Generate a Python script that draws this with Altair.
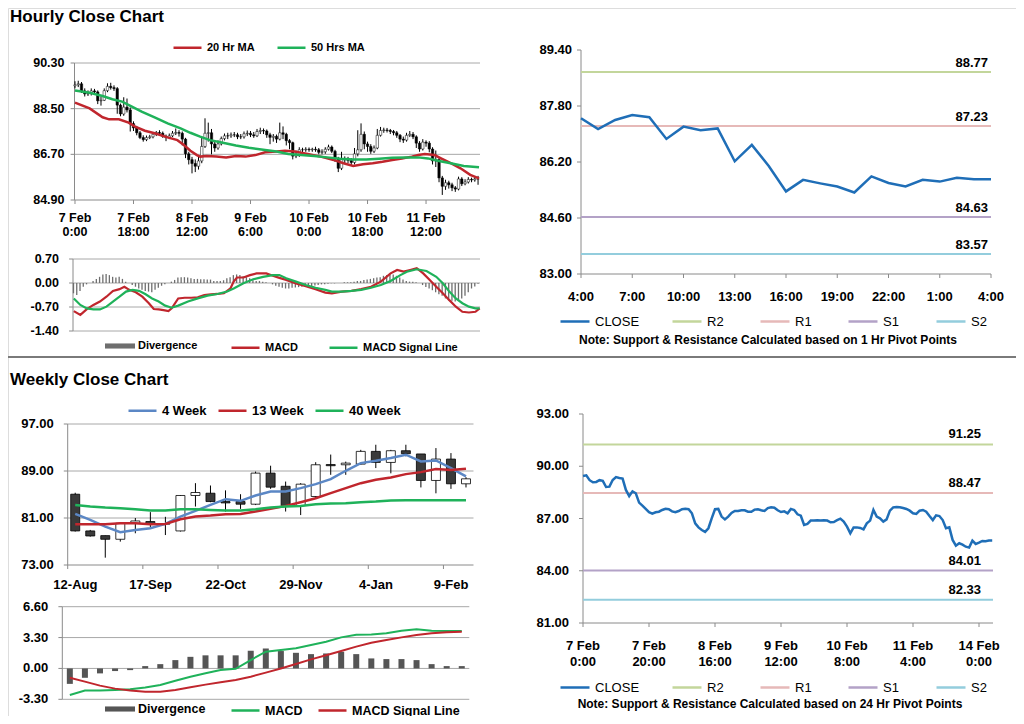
import altair as alt
import pandas as pd

FONT = "Liberation Sans"
W, H = 1008, 708
PAGE = 8


def px(v):
    return v - PAGE

# ---------------- hourly candles: 7 Feb 0:00 onward, one per hour ----------------
h_close = [89.44, 89.48, 89.20, 89.08, 89.10, 89.20, 89.16, 88.81, 88.83, 89.21,
           89.38, 89.33, 89.29, 88.64, 88.29, 88.56, 88.45, 87.91, 87.74, 87.55,
           87.36, 87.28, 87.36, 87.39, 87.49, 87.56, 87.53, 87.41, 87.36, 87.43,
           87.53, 87.56, 87.53, 87.30, 86.72, 86.49, 86.34, 86.23, 86.44, 87.01,
           87.53, 87.55, 87.11, 86.95, 87.11, 87.32, 87.43, 87.43, 87.47, 87.47,
           87.39, 87.39, 87.51, 87.53, 87.47, 87.43, 87.60, 87.64, 87.62, 87.47,
           87.37, 87.41, 87.30, 87.55, 87.49, 87.24, 87.16, 86.63, 86.69, 86.88,
           86.88, 86.90, 86.88, 86.90, 86.88, 86.78, 86.80, 86.90, 86.99, 86.82,
           86.53, 86.15, 86.49, 86.49, 86.46, 86.38, 86.72, 86.88, 87.49, 87.11,
           87.01, 86.82, 86.95, 87.45, 87.64, 87.66, 87.64, 87.60, 87.55, 87.45,
           87.30, 87.26, 87.45, 87.49, 87.39, 87.14, 86.91, 87.18, 87.14, 86.91,
           86.44, 86.49, 85.77, 85.44, 85.58, 85.50, 85.38, 85.33, 85.73, 85.54,
           85.61, 85.71, 85.69, 85.73, 85.73]
h_open = [89.40, 89.44, 89.48, 89.20, 89.08, 89.10, 89.20, 89.16, 88.81, 88.83,
          89.21, 89.38, 89.33, 89.29, 88.64, 88.29, 88.56, 88.45, 87.91, 87.74,
          87.55, 87.36, 87.28, 87.36, 87.39, 87.49, 87.56, 87.53, 87.41, 87.36,
          87.43, 87.53, 87.56, 87.53, 87.30, 86.72, 86.49, 86.34, 86.23, 86.44,
          87.01, 87.53, 87.55, 87.11, 86.95, 87.11, 87.32, 87.43, 87.43, 87.47,
          87.47, 87.39, 87.39, 87.51, 87.53, 87.47, 87.43, 87.60, 87.64, 87.62,
          87.47, 87.37, 87.41, 87.30, 87.55, 87.49, 87.24, 87.16, 86.63, 86.69,
          86.88, 86.88, 86.90, 86.88, 86.90, 86.88, 86.78, 86.80, 86.90, 86.99,
          86.82, 86.53, 86.15, 86.49, 86.49, 86.46, 86.38, 86.72, 86.88, 87.49,
          87.11, 87.01, 86.82, 86.95, 87.45, 87.64, 87.66, 87.64, 87.60, 87.55,
          87.45, 87.30, 87.26, 87.45, 87.49, 87.39, 87.14, 86.91, 87.18, 87.14,
          86.91, 86.44, 86.49, 85.77, 85.44, 85.58, 85.50, 85.38, 85.33, 85.73,
          85.54, 85.61, 85.71, 85.69, 85.73]
h_high = [89.58, 89.60, 89.55, 89.30, 89.22, 89.30, 89.28, 89.22, 88.98, 89.30,
          89.50, 89.52, 89.42, 89.35, 88.70, 88.95, 88.90, 88.55, 88.00, 87.82,
          87.62, 87.45, 87.44, 87.47, 87.58, 87.62, 87.65, 87.60, 87.48, 87.52,
          87.62, 87.72, 87.65, 87.60, 87.35, 86.80, 86.60, 86.50, 86.60, 87.40,
          88.12, 87.95, 87.70, 87.20, 87.25, 87.40, 87.52, 87.55, 87.56, 87.58,
          87.55, 87.50, 87.60, 87.64, 87.62, 87.58, 87.70, 87.75, 87.72, 87.68,
          87.55, 87.50, 87.48, 87.95, 87.80, 87.55, 87.30, 87.20, 86.85, 86.98,
          86.96, 86.98, 86.97, 86.96, 87.00, 86.95, 86.90, 86.98, 87.08, 87.05,
          86.88, 86.60, 86.80, 86.62, 86.60, 86.55, 86.95, 87.65, 87.92, 87.60,
          87.20, 87.10, 87.05, 87.70, 87.78, 87.75, 87.74, 87.70, 87.66, 87.62,
          87.50, 87.40, 87.55, 87.62, 87.58, 87.45, 87.22, 87.30, 87.25, 87.22,
          86.98, 86.85, 86.55, 85.85, 85.70, 85.66, 85.58, 85.45, 85.82, 85.80,
          85.72, 85.80, 85.78, 85.82, 85.85]
h_low = [89.30, 89.35, 89.12, 88.98, 89.00, 89.02, 89.05, 88.68, 88.62, 88.80,
         89.15, 89.25, 89.20, 88.30, 88.20, 88.22, 88.35, 87.60, 87.62, 87.45,
         87.30, 87.20, 87.22, 87.30, 87.33, 87.42, 87.45, 87.35, 87.22, 87.30,
         87.38, 87.46, 87.40, 87.05, 86.55, 86.30, 85.95, 86.00, 86.10, 86.35,
         86.95, 87.20, 86.70, 86.80, 86.88, 87.05, 87.25, 87.30, 87.35, 87.38,
         87.30, 87.30, 87.32, 87.42, 87.38, 87.35, 87.38, 87.50, 87.50, 87.35,
         87.10, 87.20, 87.15, 87.25, 87.30, 87.05, 86.90, 86.50, 86.55, 86.60,
         86.78, 86.80, 86.80, 86.80, 86.80, 86.70, 86.70, 86.72, 86.85, 86.75,
         86.40, 86.00, 86.08, 86.35, 86.35, 86.25, 86.30, 86.62, 86.80, 86.90,
         86.80, 86.72, 86.75, 86.90, 87.40, 87.55, 87.56, 87.50, 87.45, 87.35,
         87.18, 87.15, 87.20, 87.38, 87.30, 86.95, 86.80, 86.85, 87.00, 86.78,
         86.30, 86.20, 85.60, 85.10, 85.30, 85.35, 85.25, 85.22, 85.28, 85.45,
         85.48, 85.55, 85.60, 85.62, 85.50]

# moving averages (hour position, value)
ma20_h = [0, 4.5, 8.5, 10.5, 13.5, 16.5, 18.5, 21.5, 24.5, 28.5, 31.5, 33.5, 35.5, 37.5,
          38.5, 40.5, 43.5, 46.5, 49.5, 52.5, 55.5, 58.5, 62, 64.6, 67.6, 71.6, 75.6,
          79.6, 82.6, 85.6, 88.6, 91.6, 94.6, 97.6, 100.6, 103.6, 105.6, 107.6, 110.6,
          112.6, 115.6, 118.6, 121.6, 124.3]
ma20_v = [88.74, 88.51, 88.16, 88.08, 88.08, 87.95, 87.79, 87.63, 87.53, 87.37, 87.26,
          87.07, 86.84, 86.67, 86.61, 86.63, 86.61, 86.58, 86.63, 86.61, 86.67, 86.78,
          86.81, 86.84, 86.81, 86.71, 86.61, 86.48, 86.35, 86.24, 86.31, 86.35, 86.41,
          86.48, 86.54, 86.61, 86.67, 86.71, 86.67, 86.54, 86.35, 86.15, 85.89, 85.75]
ma50_h = [0, 4.5, 8.5, 11.5, 14.5, 17.5, 20.5, 24.5, 28.5, 32.5, 35.5, 38.5, 41.5, 45.5,
          49.5, 53.5, 58.5, 62, 65.6, 69.6, 73.6, 77.6, 81.6, 85.6, 89.6, 93.6, 97.6,
          101.6, 105.6, 108.6, 111.6, 115.6, 119.6, 124.3]
ma50_v = [89.22, 89.13, 89.00, 88.87, 88.78, 88.58, 88.38, 88.16, 87.92, 87.72, 87.55,
          87.40, 87.26, 87.16, 87.05, 86.96, 86.87, 86.81, 86.71, 86.67, 86.63, 86.58,
          86.53, 86.50, 86.50, 86.53, 86.57, 86.58, 86.58, 86.54, 86.45, 86.35, 86.24,
          86.19]

# hourly MACD
h_div = [-0.30, -0.35, -0.23, -0.11, -0.04, 0.00, 0.06, 0.12, 0.18, 0.25,
         0.26, 0.23, 0.18, 0.16, 0.18, 0.12, 0.04, 0.00, -0.06, -0.11,
         -0.16, -0.20, -0.23, -0.25, -0.27, -0.20, -0.14, -0.08, -0.04, 0.00,
         0.04, 0.09, 0.16, 0.17, 0.17, 0.16, 0.14, 0.12, 0.12, 0.11,
         0.11, 0.10, 0.10, 0.06, 0.06, 0.06, 0.08, 0.14, 0.17, 0.23,
         0.25, 0.23, 0.20, 0.17, 0.14, 0.08, 0.06, 0.06, 0.04, 0.02,
         0.00, -0.04, -0.08, -0.11, -0.14, -0.16, -0.16, -0.14, -0.13, -0.12,
         -0.11, -0.10, -0.10, -0.09, -0.07, -0.06, -0.04, -0.04, -0.02, -0.01,
         -0.01, 0.00, 0.00, 0.02, 0.02, 0.02, 0.04, 0.06, 0.06, 0.09,
         0.10, 0.12, 0.14, 0.16, 0.17, 0.21, 0.23, 0.23, 0.25, 0.21,
         0.16, 0.10, 0.06, 0.04, 0.04, 0.02, 0.00, -0.06, -0.12, -0.16,
         -0.21, -0.27, -0.33, -0.37, -0.45, -0.51, -0.52, -0.54, -0.52, -0.45,
         -0.37, -0.27, -0.16, -0.10, -0.02]
macd_h = [0.1, 2.1, 4.1, 6.1, 8.1, 10.1, 12.1, 14.1, 15.6, 17.1, 19.1, 21.1, 23.1, 24.6,
          26.1, 27.6, 29.1, 30.1, 32.1, 34.1, 36.1, 38.1, 40.1, 42.1, 44.1, 46.1, 48.1,
          49.1, 50.1, 52.1, 54.1, 56.1, 59.1, 61.1, 63.1, 65.2, 68.2, 71.2, 74.2, 77.2,
          79.2, 82.2, 85.2, 88.2, 91.2, 94.2, 97.2, 99.2, 101.2, 103.2, 105.2, 107.2,
          109.2, 111.2, 113.2, 115.2, 117.2, 119.2, 121.2, 123.2, 124.5]
macd_v = [-0.82, -0.93, -0.76, -0.64, -0.54, -0.40, -0.23, -0.18, -0.11, -0.20, -0.27,
          -0.40, -0.59, -0.76, -0.77, -0.79, -0.82, -0.74, -0.45, -0.43, -0.43, -0.42,
          -0.35, -0.33, -0.32, -0.30, -0.16, 0.04, 0.16, 0.16, 0.23, 0.28, 0.28, 0.21,
          0.15, 0.09, -0.01, -0.09, -0.18, -0.28, -0.30, -0.25, -0.23, -0.18, -0.11,
          0.04, 0.28, 0.38, 0.33, 0.38, 0.43, 0.28, 0.09, -0.11, -0.30, -0.50, -0.69,
          -0.84, -0.86, -0.84, -0.74]
sig_h = [0.1, 2.1, 4.1, 6.1, 8.1, 10.1, 12.1, 14.1, 16.1, 18.1, 20.1, 22.1, 24.1, 26.1,
         28.1, 30.1, 32.1, 35.1, 38.1, 41.1, 44.1, 47.1, 49.1, 52.1, 55.1, 58.1, 61.1,
         63.1, 65.2, 68.2, 71.2, 74.2, 77.2, 79.2, 82.2, 85.2, 88.2, 91.2, 94.2, 97.2,
         100.2, 102.2, 105.2, 108.2, 111.2, 113.2, 115.2, 117.2, 119.2, 121.2, 123.2,
         124.5]
sig_v = [-0.45, -0.64, -0.74, -0.77, -0.77, -0.69, -0.54, -0.40, -0.25, -0.20, -0.23,
         -0.33, -0.45, -0.54, -0.66, -0.72, -0.66, -0.54, -0.45, -0.37, -0.32, -0.25,
         -0.16, -0.01, 0.11, 0.18, 0.23, 0.23, 0.14, 0.04, -0.06, -0.14, -0.20, -0.25,
         -0.25, -0.23, -0.20, -0.14, -0.06, 0.06, 0.23, 0.33, 0.40, 0.35, 0.18, -0.01,
         -0.25, -0.45, -0.59, -0.69, -0.74, -0.74]

# 1 hour pivot chart (4:00 to 4:00)
p1_close = [87.45, 87.14, 87.40, 87.54, 87.48, 86.86, 87.21, 87.11, 87.16, 86.22, 86.69,
            86.08, 85.36, 85.69, 85.59, 85.50, 85.33, 85.79, 85.60, 85.50, 85.69, 85.64,
            85.75, 85.71, 85.71]
p1_levels = [88.77, 87.23, 84.63, 83.57]
p24_levels = [91.25, 88.47, 84.01, 82.33]
level_names = ["R2", "R1", "S1", "S2"]

# weekly candles
w_open = [85.05, 78.80, 78.00, 77.38, 80.10, 80.40, 79.95, 78.80, 84.83, 85.22, 83.80,
          83.80, 83.35, 88.64, 86.40, 83.12, 84.66, 90.10, 90.06, 90.17, 92.34, 90.46,
          92.45, 91.90, 87.39, 91.03, 86.82]
w_close = [78.80, 77.94, 77.38, 80.11, 80.50, 79.95, 80.05, 84.83, 85.34, 83.80, 83.57,
           83.35, 88.64, 86.25, 83.12, 86.76, 90.06, 89.90, 90.34, 92.34, 90.46, 92.45,
           91.94, 87.39, 91.03, 86.82, 87.67]
w_high = [85.30, 78.97, 78.00, 80.11, 81.00, 82.00, 81.20, 84.90, 86.93, 86.53, 85.70,
          85.05, 88.90, 89.90, 87.20, 86.93, 90.50, 91.80, 90.60, 92.60, 93.47, 92.60,
          93.47, 91.90, 92.90, 92.05, 87.95]
w_low = [78.70, 77.83, 74.25, 76.98, 78.40, 79.20, 78.10, 78.70, 82.95, 83.69, 82.10,
         82.55, 83.20, 85.97, 82.10, 81.50, 84.40, 88.35, 88.35, 90.06, 89.50, 88.60,
         91.50, 86.20, 85.20, 85.96, 86.20]
w_ma4 = [81.70, 80.67, 79.54, 78.57, 78.97, 79.25, 79.99, 81.24, 82.21, 83.23, 84.20,
         83.92, 84.83, 85.51, 85.51, 86.08, 86.76, 87.61, 89.04, 90.34, 90.74, 91.20,
         91.77, 90.63, 90.80, 89.49, 88.07]
w_ma13 = [79.94, 79.94, 79.94, 80.11, 80.11, 79.94, 79.99, 80.79, 81.24, 81.41, 81.64,
          81.70, 82.10, 82.55, 83.06, 83.69, 84.37, 85.23, 86.08, 86.93, 87.50, 87.90,
          88.47, 88.81, 89.32, 89.15, 89.38]
w_ma40 = [83.23, 82.95, 82.78, 82.67, 82.49, 82.27, 82.27, 82.49, 82.49, 82.38, 82.27,
          82.27, 82.49, 82.78, 82.95, 83.06, 83.35, 83.46, 83.52, 83.69, 83.80, 83.97,
          84.03, 84.03, 84.03, 84.03, 84.03]
w_div = [-1.65, -1.00, -0.53, -0.28, -0.18, 0.25, 0.46, 0.89, 1.24, 1.40, 1.40, 1.40,
         1.89, 2.14, 1.86, 1.67, 1.53, 1.60, 1.78, 1.53, 1.07, 1.00, 1.00, 0.89, 0.46,
         0.25, 0.25]
w_macd = [-2.84, -2.37, -2.37, -2.30, -2.23, -2.05, -1.77, -1.31, -0.88, -0.52, -0.17,
          -0.04, 0.90, 1.79, 1.97, 2.15, 2.50, 2.86, 3.32, 3.61, 3.64, 3.75, 4.04, 4.18,
          4.04, 4.00, 4.00]
w_signal = [-0.99, -1.41, -1.84, -2.16, -2.37, -2.48, -2.48, -2.30, -2.02, -1.73, -1.48,
            -1.23, -0.88, -0.45, 0.00, 0.47, 0.97, 1.40, 1.86, 2.33, 2.75, 3.04, 3.32,
            3.57, 3.75, 3.86, 3.93]

# tick values and labels
hc_yticks = [84.9, 86.7, 88.5, 90.3]
hm_yticks = [-1.4, -0.7, 0.0, 0.7]
p1_yticks = [83.0, 84.6, 86.2, 87.8, 89.4]
wk_yticks = [73, 81, 89, 97]
wm_yticks = [-3.3, 0.0, 3.3, 6.6]
p24_yticks = [81, 84, 87, 90, 93]
hc_ticks = [0, 18, 36, 54, 72, 90, 108]
hc_labels = ["7 Feb\n0:00", "7 Feb\n18:00", "8 Feb\n12:00", "9 Feb\n6:00",
             "10 Feb\n0:00", "10 Feb\n18:00", "11 Feb\n12:00"]
p1_ticks = [0, 3, 6, 9, 12, 15, 18, 21, 24]
p1_labels = ["4:00", "7:00", "10:00", "13:00", "16:00", "19:00", "22:00", "1:00", "4:00"]
wk_ticks = [0, 5, 10, 15, 20, 25]
wk_labels = ["12-Aug", "17-Sep", "22-Oct", "29-Nov", "4-Jan", "9-Feb"]
p24_ticks = [0, 20, 40, 60, 80, 100, 120]
p24_labels = ["7 Feb\n0:00", "7 Feb\n20:00", "8 Feb\n16:00", "9 Feb\n12:00",
              "10 Feb\n8:00", "11 Feb\n4:00", "14 Feb\n0:00"]

RED = "#c0262d"
GREEN = "#1fb25a"
BLUE4 = "#5b87c5"
CLOSE_C = "#1f6eb7"
LEVEL_C = ["#c3d69b", "#e6b9b8", "#b3a2c7", "#93cddd"]
GRID = "#a8a8a8"
AXC = "#8a8a8a"


def sc(domain, r0, r1):
    return alt.Scale(domain=domain, range=[px(r0), px(r1)], zero=False, nice=False)


def axis_layers(xdom, xr, ydom, yr, yticks, grid_vals, ygap, ysize,
                xticks=None, xlabels=None, xgap=0, xsize=13, xdx=0, lh=15):
    xs, ys = sc(xdom, *xr), sc(ydom, *yr)
    xmin, xmax = xdom
    ymin, ymax = ydom
    tkx = 4.0 * (xmax - xmin) / (xr[1] - xr[0])
    tky = 4.0 * (ymax - ymin) / (yr[0] - yr[1])
    X = lambda f: alt.X(f, scale=xs, axis=None)
    Y = lambda f: alt.Y(f, scale=ys, axis=None)
    out = []
    if grid_vals:
        g = pd.DataFrame({"v": grid_vals, "x0": xmin, "x1": xmax})
        out.append(alt.Chart(g).mark_rule(color=GRID, strokeWidth=1).encode(
            x=X("x0:Q"), x2="x1:Q", y=Y("v:Q")))
    yt = pd.DataFrame({"v": yticks, "x0": xmin - tkx, "x1": xmin,
                       "lab": ["%.2f" % v for v in yticks]})
    out.append(alt.Chart(yt).mark_rule(color=AXC, strokeWidth=1).encode(
        x=X("x0:Q"), x2="x1:Q", y=Y("v:Q")))
    out.append(alt.Chart(yt).mark_text(align="right", baseline="middle", dx=-ygap, font=FONT,
                                       fontSize=ysize, fontWeight="bold", color="black").encode(
        x=X("x1:Q"), y=Y("v:Q"), text="lab:N"))
    yl = pd.DataFrame({"x0": [xmin], "y0": [ymin], "y1": [ymax]})
    out.append(alt.Chart(yl).mark_rule(color=AXC, strokeWidth=1).encode(
        x=X("x0:Q"), y=Y("y0:Q"), y2="y1:Q"))
    if xticks is not None:
        xl = pd.DataFrame({"x0": [xmin], "x1": [xmax], "y0": [ymin]})
        out.append(alt.Chart(xl).mark_rule(color=AXC, strokeWidth=1).encode(
            x=X("x0:Q"), x2="x1:Q", y=Y("y0:Q")))
        xt = pd.DataFrame({"t": xticks, "y0": ymin, "y1": ymin - tky, "lab": xlabels})
        out.append(alt.Chart(xt).mark_rule(color=AXC, strokeWidth=1).encode(
            x=X("t:Q"), y=Y("y0:Q"), y2="y1:Q"))
        out.append(alt.Chart(xt).mark_text(align="center", baseline="top", dy=xgap, dx=xdx,
                                           lineBreak="\n", lineHeight=lh, font=FONT,
                                           fontSize=xsize, fontWeight="bold",
                                           color="black").encode(
            x=X("t:Q"), y=Y("y0:Q"), text="lab:N"))
    return out


def line_legend(xpage, ycenter, size, bold, pad, symlen=28, align="each", columns=None):
    kw = {}
    if columns:
        kw["columns"] = columns
    return alt.Legend(orient="none", legendX=px(xpage), legendY=px(ycenter) - symlen / 2,
                      direction="horizontal", title=None, symbolType="stroke",
                      symbolSize=symlen * symlen, symbolStrokeWidth=2.5, labelFont=FONT,
                      labelFontSize=size, labelFontWeight="bold" if bold else "normal",
                      labelColor="black", columnPadding=pad, labelOffset=4, padding=0,
                      labelLimit=400, gridAlign=align, **kw)


def box_legend(xpage, ycenter, size):
    return alt.Legend(orient="none", legendX=px(xpage), legendY=px(ycenter) - 15,
                      direction="horizontal", title=None,
                      symbolType="M-1,-0.17H1V0.17H-1Z", symbolSize=900,
                      symbolStrokeWidth=0, labelFont=FONT, labelFontSize=size,
                      labelFontWeight="bold", labelColor="black", labelOffset=3,
                      padding=0, labelLimit=400)


# ---------------- panel A: hourly candles ----------------
domA, rxA, ydomA, ryA = [-0.15, 124.6], (69.5, 485), [84.9, 90.3], (200, 63)
xA, yA = sc(domA, *rxA), sc(ydomA, *ryA)
dfA = pd.DataFrame({"h": list(range(len(h_close))), "open": h_open, "close": h_close,
                    "high": h_high, "low": h_low})
dfMA = pd.concat([
    pd.DataFrame({"h": ma20_h, "v": ma20_v, "s": "20 Hr MA"}),
    pd.DataFrame({"h": ma50_h, "v": ma50_v, "s": "50 Hrs MA"}),
])
wickA = alt.Chart(dfA).mark_rule(color="black", strokeWidth=1).encode(
    x=alt.X("h:Q", scale=xA, axis=None), y=alt.Y("low:Q", scale=yA, axis=None), y2="high:Q")
bodyA = alt.Chart(dfA).mark_bar(size=2.4, stroke="black", strokeWidth=0.5).encode(
    x=alt.X("h:Q", scale=xA, axis=None),
    y=alt.Y("open:Q", scale=yA, axis=None), y2="close:Q",
    fill=alt.condition("datum.close >= datum.open", alt.value("white"), alt.value("black")))
maA = alt.Chart(dfMA).mark_line(strokeWidth=2.5).encode(
    x=alt.X("h:Q", scale=xA, axis=None),
    y=alt.Y("v:Q", scale=yA, axis=None),
    color=alt.Color("s:N", scale=alt.Scale(domain=["20 Hr MA", "50 Hrs MA"], range=[RED, GREEN]),
                    legend=line_legend(172, 46, 11, True, 17)))
axA = axis_layers(domA, rxA, ydomA, ryA, hc_yticks, hc_yticks[1:], 10, 12.5,
                  hc_ticks, hc_labels, xgap=12, xsize=12.5, lh=14)
panelA = alt.layer(*axA, wickA, bodyA, maA)

# ---------------- panel B: hourly MACD ----------------
domB, rxB, ydomB, ryB = [-0.15, 124.6], (68, 485), [-1.4, 0.7], (331, 259)
xB, yB = sc(domB, *rxB), sc(ydomB, *ryB)
dfDivB = pd.DataFrame({"h": list(range(len(h_div))), "d": h_div, "s": "Divergence"})
dfLinesB = pd.concat([
    pd.DataFrame({"h": macd_h, "v": macd_v, "s": "MACD"}),
    pd.DataFrame({"h": sig_h, "v": sig_v, "s": "MACD Signal Line"}),
])
barsB = alt.Chart(dfDivB).mark_bar(size=1.3).encode(
    x=alt.X("h:Q", scale=xB, axis=None),
    y=alt.Y("d:Q", scale=yB, axis=None), y2=alt.datum(0),
    color=alt.Color("s:N", scale=alt.Scale(domain=["Divergence"], range=["#6e6e6e"]),
                    legend=box_legend(105, 346, 11)))
linesB = alt.Chart(dfLinesB).mark_line(strokeWidth=2.2).encode(
    x=alt.X("h:Q", scale=xB, axis=None),
    y=alt.Y("v:Q", scale=yB, axis=None),
    color=alt.Color("s:N", scale=alt.Scale(domain=["MACD", "MACD Signal Line"], range=[RED, GREEN]),
                    legend=line_legend(230, 346, 11, True, 26)))
axB = axis_layers(domB, rxB, ydomB, ryB, hm_yticks, hm_yticks, 14, 12.5)
panelB = alt.layer(*axB, barsB, linesB).resolve_scale(color="independent")

# ---------------- panel C: 1 hour pivot chart ----------------
domC, rxC, ydomC, ryC = [0, 24], (581, 991), [83.0, 89.4], (274, 50)
xC, yC = sc(domC, *rxC), sc(ydomC, *ryC)
dfLevC = pd.concat([pd.DataFrame({"h": [0, 24], "v": [lv, lv], "s": nm})
                    for lv, nm in zip(p1_levels, level_names)])
dfLabC = pd.DataFrame({"h": [24] * 4, "v": p1_levels, "t": ["%.2f" % v for v in p1_levels]})
dfCloseC = pd.DataFrame({"h": list(range(len(p1_close))), "v": p1_close, "s": "CLOSE"})
levC = alt.Chart(dfLevC).mark_line(strokeWidth=2).encode(
    x=alt.X("h:Q", scale=xC, axis=None), y=alt.Y("v:Q", scale=yC, axis=None),
    color=alt.Color("s:N", scale=alt.Scale(domain=level_names, range=LEVEL_C),
                    legend=line_legend(671, 320, 13, False, 31, symlen=29, align="all",
                                       columns=4)))
closeC = alt.Chart(dfCloseC).mark_line(strokeWidth=2.5).encode(
    x=alt.X("h:Q", scale=xC, axis=None), y=alt.Y("v:Q", scale=yC, axis=None),
    color=alt.Color("s:N", scale=alt.Scale(domain=["CLOSE"], range=[CLOSE_C]),
                    legend=line_legend(559, 320, 13, False, 10, symlen=29)))
labC = alt.Chart(dfLabC).mark_text(align="right", baseline="alphabetic", dx=-3, dy=-5,
                                   font=FONT, fontSize=13, fontWeight="bold", color="black").encode(
    x=alt.X("h:Q", scale=xC, axis=None), y=alt.Y("v:Q", scale=yC, axis=None), text="t:N")
axC = axis_layers(domC, rxC, ydomC, ryC, p1_yticks, None, 9, 13,
                  p1_ticks, p1_labels, xgap=17, xsize=13)
panelC = alt.layer(*axC, levC, closeC, labC).resolve_scale(color="independent")

# ---------------- panel D: weekly candles ----------------
domD, rxD, ydomD, ryD = [0, 27], (62.7, 478.5), [73, 97], (565, 424)
xD, yD = sc(domD, *rxD), sc(ydomD, *ryD)
wk_pos = [i + 0.5 for i in range(len(w_close))]
dfD = pd.DataFrame({"x": wk_pos, "open": w_open, "close": w_close, "high": w_high, "low": w_low})
dfMAD = pd.concat([
    pd.DataFrame({"x": wk_pos, "v": w_ma4, "s": "4 Week"}),
    pd.DataFrame({"x": wk_pos, "v": w_ma13, "s": "13 Week"}),
    pd.DataFrame({"x": wk_pos, "v": w_ma40, "s": "40 Week"}),
])
wickD = alt.Chart(dfD).mark_rule(color="black", strokeWidth=1).encode(
    x=alt.X("x:Q", scale=xD, axis=None), y=alt.Y("low:Q", scale=yD, axis=None), y2="high:Q")
bodyD = alt.Chart(dfD).mark_bar(size=9, stroke="black", strokeWidth=0.8).encode(
    x=alt.X("x:Q", scale=xD, axis=None),
    y=alt.Y("open:Q", scale=yD, axis=None), y2="close:Q",
    fill=alt.condition("datum.close >= datum.open", alt.value("white"), alt.value("#3a3a3a")))
maD = alt.Chart(dfMAD).mark_line(strokeWidth=2.5).encode(
    x=alt.X("x:Q", scale=xD, axis=None),
    y=alt.Y("v:Q", scale=yD, axis=None),
    color=alt.Color("s:N", scale=alt.Scale(domain=["4 Week", "13 Week", "40 Week"],
                                           range=[BLUE4, RED, GREEN]),
                    legend=line_legend(127, 409, 13, True, 6)))
axD = axis_layers(domD, rxD, ydomD, ryD, wk_yticks, wk_yticks[1:], 14, 13,
                  wk_ticks, wk_labels, xgap=14, xsize=13, xdx=7.7)
panelD = alt.layer(*axD, wickD, bodyD, maD)

# ---------------- panel E: weekly MACD ----------------
domE, rxE, ydomE, ryE = [0, 27], (57.3, 474.3), [-3.3, 6.6], (699.3, 606.7)
xE, yE = sc(domE, *rxE), sc(ydomE, *ryE)
dfDivE = pd.DataFrame({"x": wk_pos, "d": w_div, "s": "Divergence"})
dfLinesE = pd.concat([
    pd.DataFrame({"x": wk_pos, "v": w_macd, "s": "MACD"}),
    pd.DataFrame({"x": wk_pos, "v": w_signal, "s": "MACD Signal Line"}),
])
barsE = alt.Chart(dfDivE).mark_bar(size=6).encode(
    x=alt.X("x:Q", scale=xE, axis=None),
    y=alt.Y("d:Q", scale=yE, axis=None), y2=alt.datum(0),
    color=alt.Color("s:N", scale=alt.Scale(domain=["Divergence"], range=["#555555"]),
                    legend=box_legend(105, 709, 12.5)))
linesE = alt.Chart(dfLinesE).mark_line(strokeWidth=2).encode(
    x=alt.X("x:Q", scale=xE, axis=None),
    y=alt.Y("v:Q", scale=yE, axis=None),
    color=alt.Color("s:N", scale=alt.Scale(domain=["MACD", "MACD Signal Line"], range=[GREEN, RED]),
                    legend=line_legend(230, 709, 12.5, True, 10)))
axE = axis_layers(domE, rxE, ydomE, ryE, wm_yticks, wm_yticks, 14, 13)
panelE = alt.layer(*axE, barsE, linesE).resolve_scale(color="independent")

# ---------------- panel F: 24 hour pivot chart ----------------
domF, rxF, ydomF, ryF = [0, 124.24], (583, 993), [81, 93], (623, 414)
xF, yF = sc(domF, *rxF), sc(ydomF, *ryF)
dfLevF = pd.concat([pd.DataFrame({"h": [0, 124.24], "v": [lv, lv], "s": nm})
                    for lv, nm in zip(p24_levels, level_names)])
dfLabF = pd.DataFrame({"h": [124.24] * 4, "v": p24_levels, "t": ["%.2f" % v for v in p24_levels]})
dfCloseF = pd.DataFrame({"h": list(range(len(h_close))), "v": h_close, "s": "CLOSE"})
levF = alt.Chart(dfLevF).mark_line(strokeWidth=2).encode(
    x=alt.X("h:Q", scale=xF, axis=None), y=alt.Y("v:Q", scale=yF, axis=None),
    color=alt.Color("s:N", scale=alt.Scale(domain=level_names, range=LEVEL_C),
                    legend=line_legend(671, 686, 13, False, 31, symlen=29, align="all",
                                       columns=4)))
closeF = alt.Chart(dfCloseF).mark_line(strokeWidth=2.5).encode(
    x=alt.X("h:Q", scale=xF, axis=None), y=alt.Y("v:Q", scale=yF, axis=None),
    color=alt.Color("s:N", scale=alt.Scale(domain=["CLOSE"], range=[CLOSE_C]),
                    legend=line_legend(559, 686, 13, False, 10, symlen=29)))
labF = alt.Chart(dfLabF).mark_text(align="right", baseline="alphabetic", dx=-12, dy=-6,
                                   font=FONT, fontSize=13, fontWeight="bold", color="black").encode(
    x=alt.X("h:Q", scale=xF, axis=None), y=alt.Y("v:Q", scale=yF, axis=None), text="t:N")
axF = axis_layers(domF, rxF, ydomF, ryF, p24_yticks, None, 14, 13,
                  p24_ticks, p24_labels, xgap=17, xsize=13, lh=16)
panelF = alt.layer(*axF, levF, closeF, labF).resolve_scale(color="independent")


# ---------------- titles, notes, separators ----------------
def text_layer(txt, xpage, ypage, size, bold=True, align="left"):
    return alt.Chart(pd.DataFrame({"t": [txt]})).mark_text(
        align=align, baseline="alphabetic", font=FONT, fontSize=size,
        fontWeight="bold" if bold else "normal", color="black").encode(
        text="t:N", x=alt.value(px(xpage)), y=alt.value(px(ypage)))


def hline(ypage):
    return alt.Chart(pd.DataFrame({"a": [0]})).mark_rule(color="#7a7a7a", strokeWidth=2).encode(
        x=alt.value(0), x2=alt.value(W), y=alt.value(px(ypage)))


titles = [
    text_layer("Hourly Close Chart", 10, 22, 17),
    text_layer("Weekly Close Chart", 10, 385, 17),
    text_layer("Note: Support & Resistance Calculated based on 1 Hr Pivot Points", 768, 344, 12,
               align="center"),
    text_layer("Note: Support & Resistance Calculated based on 24 Hr Pivot Points", 770, 708, 12,
               align="center"),
    hline(357),
]

chart = alt.layer(panelA, panelB, panelC, panelD, panelE, panelF, *titles).resolve_scale(
    x="independent", y="independent", color="independent"
).properties(
    width=W, height=H, autosize=alt.AutoSizeParams(type="none"), padding=0
).configure_view(strokeWidth=0).configure(font=FONT, background="white")

chart.save("out.html", embed_options={"renderer": "svg", "actions": False})
